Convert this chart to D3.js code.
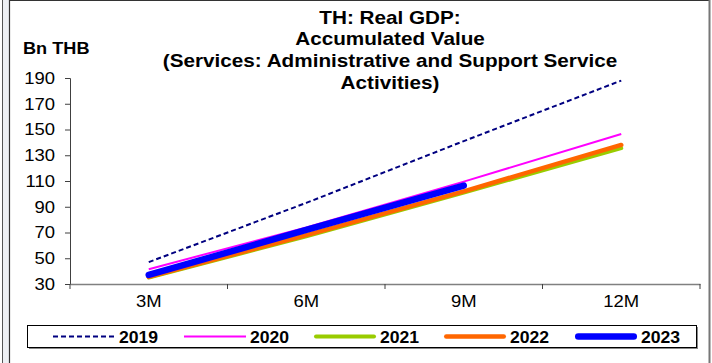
<!DOCTYPE html>
<html><head><meta charset="utf-8">
<script src="https://cdn.jsdelivr.net/npm/d3@7"></script>
<style>
html,body{margin:0;padding:0;background:#fff;}
svg{display:block;font-family:"Liberation Sans",Arial,sans-serif;}
</style></head>
<body><svg id="c" width="712" height="363"></svg>
<script>
const categories = ["3M","6M","9M","12M"];
const years = ["2019","2020","2021","2022","2023"];
const v2019 = [47, 93, 141, 188];
const v2020 = [41.5, 74, 109.5, 146.5];
const v2021 = [35, 67, 101, 135.5];
const v2022 = [35.5, 68, 102, 138];
const v2023 = [37, 72, 106.5];
const yTicks = [30,50,70,90,110,130,150,170,190];
const titleLines = ["TH: Real GDP:","Accumulated Value","(Services: Administrative and Support Service","Activities)"];
const yLabel = "Bn THB";

const seriesVals = [v2019,v2020,v2021,v2022,v2023];
const styles = [
  {color:"#000080", w:2, dash:"5,3", cap:"butt"},
  {color:"#FF00FF", w:2, dash:null, cap:"butt"},
  {color:"#99CC00", w:4, dash:null, cap:"round"},
  {color:"#FF6600", w:4.5, dash:null, cap:"round"},
  {color:"#0000FF", w:6.5, dash:null, cap:"round"}
];
const SX = 1.12; // horizontal text stretch seen in the reference

const svg = d3.select("#c");
// frame
svg.append("rect").attr("x",0).attr("y",0).attr("width",712).attr("height",363).attr("fill","#fff");
svg.append("rect").attr("x",3).attr("y",0).attr("width",6).attr("height",363).attr("fill","#eef0f4");
svg.append("line").attr("x1",2.5).attr("x2",2.5).attr("y1",0).attr("y2",363).attr("stroke","#555").attr("stroke-width",1);
svg.append("line").attr("x1",9.5).attr("x2",9.5).attr("y1",0).attr("y2",363).attr("stroke","#333").attr("stroke-width",1.2);
svg.append("line").attr("x1",9.5).attr("x2",710).attr("y1",0.5).attr("y2",0.5).attr("stroke","#333").attr("stroke-width",1.2);
svg.append("line").attr("x1",709.5).attr("x2",709.5).attr("y1",0).attr("y2",363).attr("stroke","#777").attr("stroke-width",2);

const x = d3.scaleBand().domain(categories).range([70,700]).padding(0);
const y = d3.scaleLinear().domain([30,190]).range([284,78]);

function stext(parent, tx, ty, sx, str, size, anchor, weight){
  const g = parent.append("g").attr("transform",`translate(${tx},${ty}) scale(${sx},1)`);
  return g.append("text").attr("x",0).attr("y",0).attr("text-anchor",anchor)
    .attr("font-size",size).attr("font-weight",weight).attr("fill","#000").text(str);
}

// title
titleLines.forEach((t,i)=>stext(svg, 390, 23.5+i*21.9, 1.15, t, 18, "middle", "bold"));
stext(svg, 23, 53.5, 1.1, yLabel, 16.5, "start", "bold");

// y axis
const ya = svg.append("g").attr("transform","translate(70,0)")
  .call(d3.axisLeft(y).tickValues(yTicks).tickSize(5).tickPadding(10));
ya.select(".domain").attr("stroke","#404040");
ya.selectAll(".tick line").attr("stroke","#404040");
ya.selectAll(".tick text").attr("font-size",16.5).attr("font-family","Liberation Sans, Arial, sans-serif").attr("fill","#000")
  .attr("x",-15/SX).attr("transform",`scale(${SX},1)`);

// x axis
const xa = svg.append("g").attr("transform","translate(0,284)")
  .call(d3.axisBottom(x).tickSize(0).tickPadding(11));
xa.select(".domain").attr("stroke","#808080").attr("stroke-width",1.5);
xa.selectAll(".tick text").attr("font-size",16.5).attr("font-family","Liberation Sans, Arial, sans-serif").attr("fill","#000")
  .attr("transform",`scale(${SX},1)`);
xa.selectAll(".tick").each(function(d){
  const t = d3.select(this);
  const cx = x(d)+x.bandwidth()/2;
  t.attr("transform",`translate(${cx},0)`);
});
const bounds = categories.map(c=>x(c)).concat([x.range()[1]]);
svg.append("g").selectAll("line").data(bounds).join("line")
  .attr("x1",d=>d).attr("x2",d=>d).attr("y1",284).attr("y2",289).attr("stroke","#404040");

// lines
const line = d3.line().x((d,i)=>x(categories[i])+x.bandwidth()/2).y(d=>y(d));
[0,1,2,3,4].forEach(k=>{
  const s = styles[k];
  const p = svg.append("path").datum(seriesVals[k]).attr("d",line)
    .attr("fill","none").attr("stroke",s.color).attr("stroke-width",s.w)
    .attr("stroke-linecap",s.cap).attr("stroke-linejoin","round");
  if(s.dash) p.attr("stroke-dasharray",s.dash);
});

// legend
const lg = svg.append("g");
lg.append("rect").attr("x",29).attr("y",327).attr("width",669).attr("height",22).attr("fill","#888");
lg.append("rect").attr("x",27.5).attr("y",325.5).attr("width",669).attr("height",22).attr("fill","#fff").attr("stroke","#000").attr("stroke-width",1);
const lx = [53,184,314,444,575];
years.forEach((yr,k)=>{
  const s = styles[k];
  const l = lg.append("line").attr("x1",lx[k]+ (s.cap==="round"? s.w/2:0)).attr("x2",lx[k]+62-(s.cap==="round"? s.w/2:0))
    .attr("y1",336.5).attr("y2",336.5).attr("stroke",s.color).attr("stroke-width",s.w).attr("stroke-linecap",s.cap);
  if(s.dash) l.attr("stroke-dasharray",s.dash);
  stext(lg, lx[k]+66, 342.5, 1.1, yr, 16, "start", "bold");
});
</script></body></html>
